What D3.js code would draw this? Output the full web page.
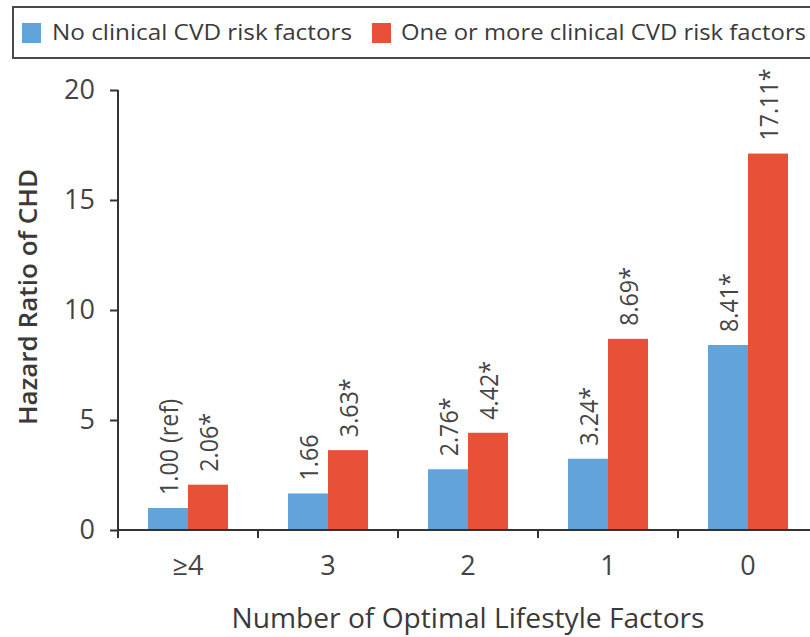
<!DOCTYPE html>
<html>
<head>
<meta charset="utf-8">
<script src="https://cdn.jsdelivr.net/npm/d3@7"></script>
<style>
  html, body { margin: 0; padding: 0; background: #fff; }
  svg { display: block; }
  text { font-family: "Open Sans", "Noto Sans", sans-serif; }
</style>
</head>
<body>
<svg id="chart" width="810" height="637"></svg>
<script>
const categories = ["≥4", "3", "2", "1", "0"];
const seriesNames = ["No clinical CVD risk factors", "One or more clinical CVD risk factors"];
const noRiskValues = [1.00, 1.66, 2.76, 3.24, 8.41];
const riskValues = [2.06, 3.63, 4.42, 8.69, 17.11];
const noRiskLabels = ["1.00 (ref)", "1.66", "2.76*", "3.24*", "8.41*"];
const riskLabels = ["2.06*", "3.63*", "4.42*", "8.69*", "17.11*"];
const yTicks = [0, 5, 10, 15, 20];
const colors = ["#62a4d9", "#e85137"];

const svg = d3.select("#chart");
const x0 = d3.scaleBand().domain(categories).range([118, 818]).paddingInner(0).paddingOuter(0);
const x1 = d3.scaleBand().domain([0, 1]).range([0, x0.bandwidth()]).paddingInner(0).paddingOuter(0.75);
const y = d3.scaleLinear().domain([0, 20]).range([530, 90]);

// legend
svg.append("rect").attr("x", 13).attr("y", 7).attr("width", 830).attr("height", 51)
  .attr("fill", "#fff").attr("stroke", "#4a4a4a").attr("stroke-width", 2);
const legendItems = [
  { sx: 22, tx: 52, w: 300 },
  { sx: 372, tx: 401, w: 405 }
];
legendItems.forEach((it, i) => {
  svg.append("rect").attr("x", it.sx).attr("y", 23).attr("width", 19).attr("height", 20).attr("fill", colors[i]);
  svg.append("text").attr("x", it.tx).attr("y", 39.5).attr("font-size", 22.5).attr("fill", "#3a3a3a")
    .attr("textLength", it.w).attr("lengthAdjust", "spacingAndGlyphs").text(seriesNames[i]);
});

// bars
const data = categories.map((c, i) => ({ cat: c, vals: [noRiskValues[i], riskValues[i]], labels: [noRiskLabels[i], riskLabels[i]] }));
const groups = svg.append("g").selectAll("g").data(data).join("g")
  .attr("transform", d => `translate(${x0(d.cat)},0)`);
groups.selectAll("rect").data(d => d.vals.map((v, k) => ({ v, k }))).join("rect")
  .attr("x", d => x1(d.k)).attr("width", x1.bandwidth())
  .attr("y", d => y(d.v)).attr("height", d => y(0) - y(d.v))
  .attr("fill", d => colors[d.k]);
groups.selectAll("text.val").data(d => d.vals.map((v, k) => ({ v, k, label: d.labels[k] }))).join("text")
  .attr("class", "val")
  .attr("transform", d => `translate(${x1(d.k) + x1.bandwidth() / 2 + 1},${y(d.v) - 13}) rotate(-90) scale(0.93,1)`)
  .attr("dy", "0.36em")
  .attr("font-size", 25).attr("fill", "#454545").attr("text-anchor", "start")
  .text(d => d.label);

// y axis
const yAxis = d3.axisLeft(y).tickValues(yTicks).tickSize(8).tickPadding(15).tickFormat(d3.format("d"));
const gy = svg.append("g").attr("transform", "translate(118,0)").call(yAxis);
gy.select(".domain").attr("d", "M0,90V537").attr("stroke", "#333").attr("stroke-width", 2);
gy.selectAll(".tick line").attr("stroke", "#333").attr("stroke-width", 2);
gy.selectAll(".tick text").attr("font-size", 27).attr("fill", "#444").attr("font-family", "Open Sans, sans-serif");

// x axis
const xAxis = d3.axisBottom(x0).tickSize(0).tickPadding(26);
const gx = svg.append("g").attr("transform", "translate(0,530)").call(xAxis);
gx.select(".domain").attr("d", "M117,0H818").attr("stroke", "#333").attr("stroke-width", 2);
gx.selectAll(".tick text").attr("font-size", 27).attr("fill", "#444").attr("font-family", "Open Sans, sans-serif")
  .attr("dy", "0.71em");
gx.selectAll("line.bound").data(categories).join("line").attr("class", "bound")
  .attr("x1", d => x0(d)).attr("x2", d => x0(d)).attr("y1", 0).attr("y2", 8)
  .attr("stroke", "#333").attr("stroke-width", 2);

// axis titles
svg.append("text").attr("x", 468).attr("y", 628).attr("text-anchor", "middle")
  .attr("font-size", 27).attr("fill", "#3a3a3a").attr("font-weight", 500)
  .attr("textLength", 473).attr("lengthAdjust", "spacingAndGlyphs")
  .text("Number of Optimal Lifestyle Factors");
svg.append("text").attr("transform", "translate(37,297) rotate(-90)").attr("text-anchor", "middle")
  .attr("font-size", 26).attr("fill", "#3a3a3a").attr("font-weight", 600)
  .attr("textLength", 256).attr("lengthAdjust", "spacingAndGlyphs")
  .text("Hazard Ratio of CHD");
</script>
</body>
</html>
